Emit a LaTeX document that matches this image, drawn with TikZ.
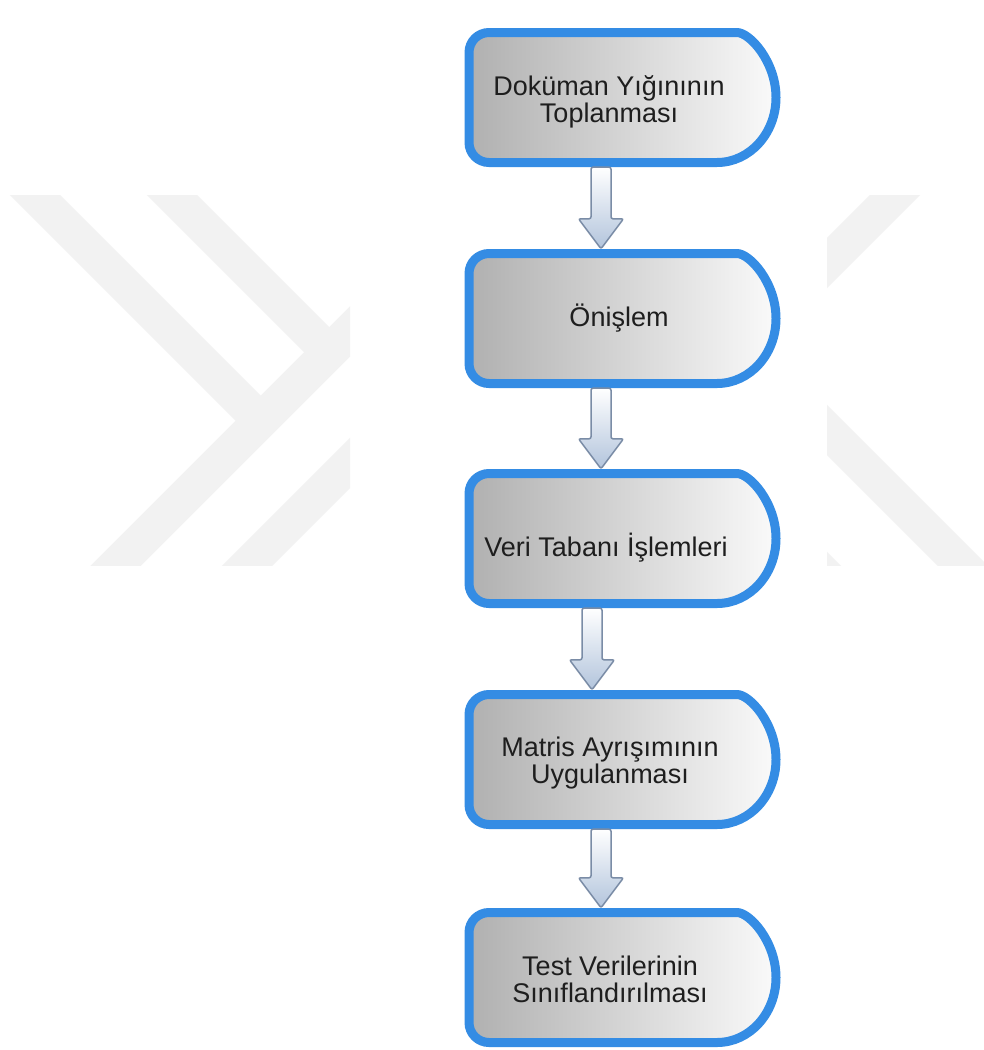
\documentclass[tikz,border=0pt]{standalone}
\usepackage{fontspec}
\setmainfont{Liberation Sans}
\usepackage{tikz}
\usetikzlibrary{calc,backgrounds}
\definecolor{boxblue}{RGB}{52,140,228}
\definecolor{arrowedge}{RGB}{122,140,166}
\definecolor{arrowfill}{RGB}{178,196,220}
\definecolor{markgray}{RGB}{242,242,242}
\definecolor{textgray}{RGB}{30,30,30}
\tikzstyle{stepborder}=[draw=boxblue, line width=9pt, left color=gray!62, right color=white!96!gray]
\tikzstyle{stepframe}=[minimum width=316pt, minimum height=139pt, inner sep=0pt]
\tikzstyle{steptext}=[inner sep=0pt, align=center, text=textgray, font=\fontsize{27pt}{27pt}\selectfont]
\tikzstyle{flowarrow}=[draw=arrowedge, line width=1.5pt, rounded corners=2pt, top color=white, bottom color=arrowfill]
\tikzstyle{markband}=[draw=markgray, line width=35.4pt]
\newcommand{\delayNbox}[4]{
	\draw[stepborder] ($#2+(94.5,-65)$) arc(90:-90:59pt and 65pt) [rounded corners=20pt] -- ($#2+(-153.5,65)$) -- ($#2+(-153.5,-65)$) -- cycle;
	\node[stepframe] (#1) at #2 {};
	\node[steptext] (#1t) at ($#2+#3$) {#4};
}
\newcommand{\flowArrow}[3]{
	\coordinate (ZZa) at ($(#1.south)+(#3,0)$);
	\coordinate (ZZb) at ($(#2.north)+(#3,0)$);
	\draw[flowarrow] ($(ZZa)+(-10,0)$) -- ($(ZZb)+(-10,-30)$) -- ($(ZZb)+(-22.5,-30)$) -- (ZZb) -- ($(ZZb)+(22.5,-30)$) -- ($(ZZb)+(10,-30)$) -- ($(ZZa)+(10,0)$) -- cycle;
}
\begin{document}
\begin{tikzpicture}[x=1pt,y=-1pt]
	\fill[white] (0,0) rectangle (984,1050);
	\useasboundingbox (0,0) rectangle (984,1050);
	% faint mark behind the chart
	\begin{scope}
		\clip (0,195) rectangle (350,565);
		\draw[markband] (-15,145) -- (260.75,420.75);
		\draw[markband] (122,145) -- (329.25,352.25);
		\draw[markband] (66.5,615) -- (420,261.5);
		\draw[markband] (198,615) -- (420,393);
	\end{scope}
	\begin{scope}
		\clip (827,195) rectangle (984,565);
		\draw[markband] (1000,90) -- (700,390);
		\draw[markband] (700,303) -- (1100,703);
		\draw[markband] (800,550) -- (1000,750);
	\end{scope}
	% steps
	\delayNbox{s1}{(622.5,97.5)}{(-13.5,4)}{Doküman Yığınının\\Toplanması}
	\delayNbox{s2}{(622.5,318.5)}{(-3.5,-0.5)}{Önişlem}
	\delayNbox{s3}{(622.5,538.5)}{(-16.5,9.5)}{Veri Tabanı İşlemleri}
	\delayNbox{s4}{(622.5,759.5)}{(-12.5,4)}{Matris Ayrışımının\\Uygulanması}
	\delayNbox{s5}{(622.5,977.5)}{(-12.5,1.5)}{Test Verilerinin\\Sınıflandırılması}
	\flowArrow{s1}{s2}{-21.5}
	\flowArrow{s2}{s3}{-21.5}
	\flowArrow{s3}{s4}{-30.5}
	\flowArrow{s4}{s5}{-21.5}
\end{tikzpicture}
\end{document}
